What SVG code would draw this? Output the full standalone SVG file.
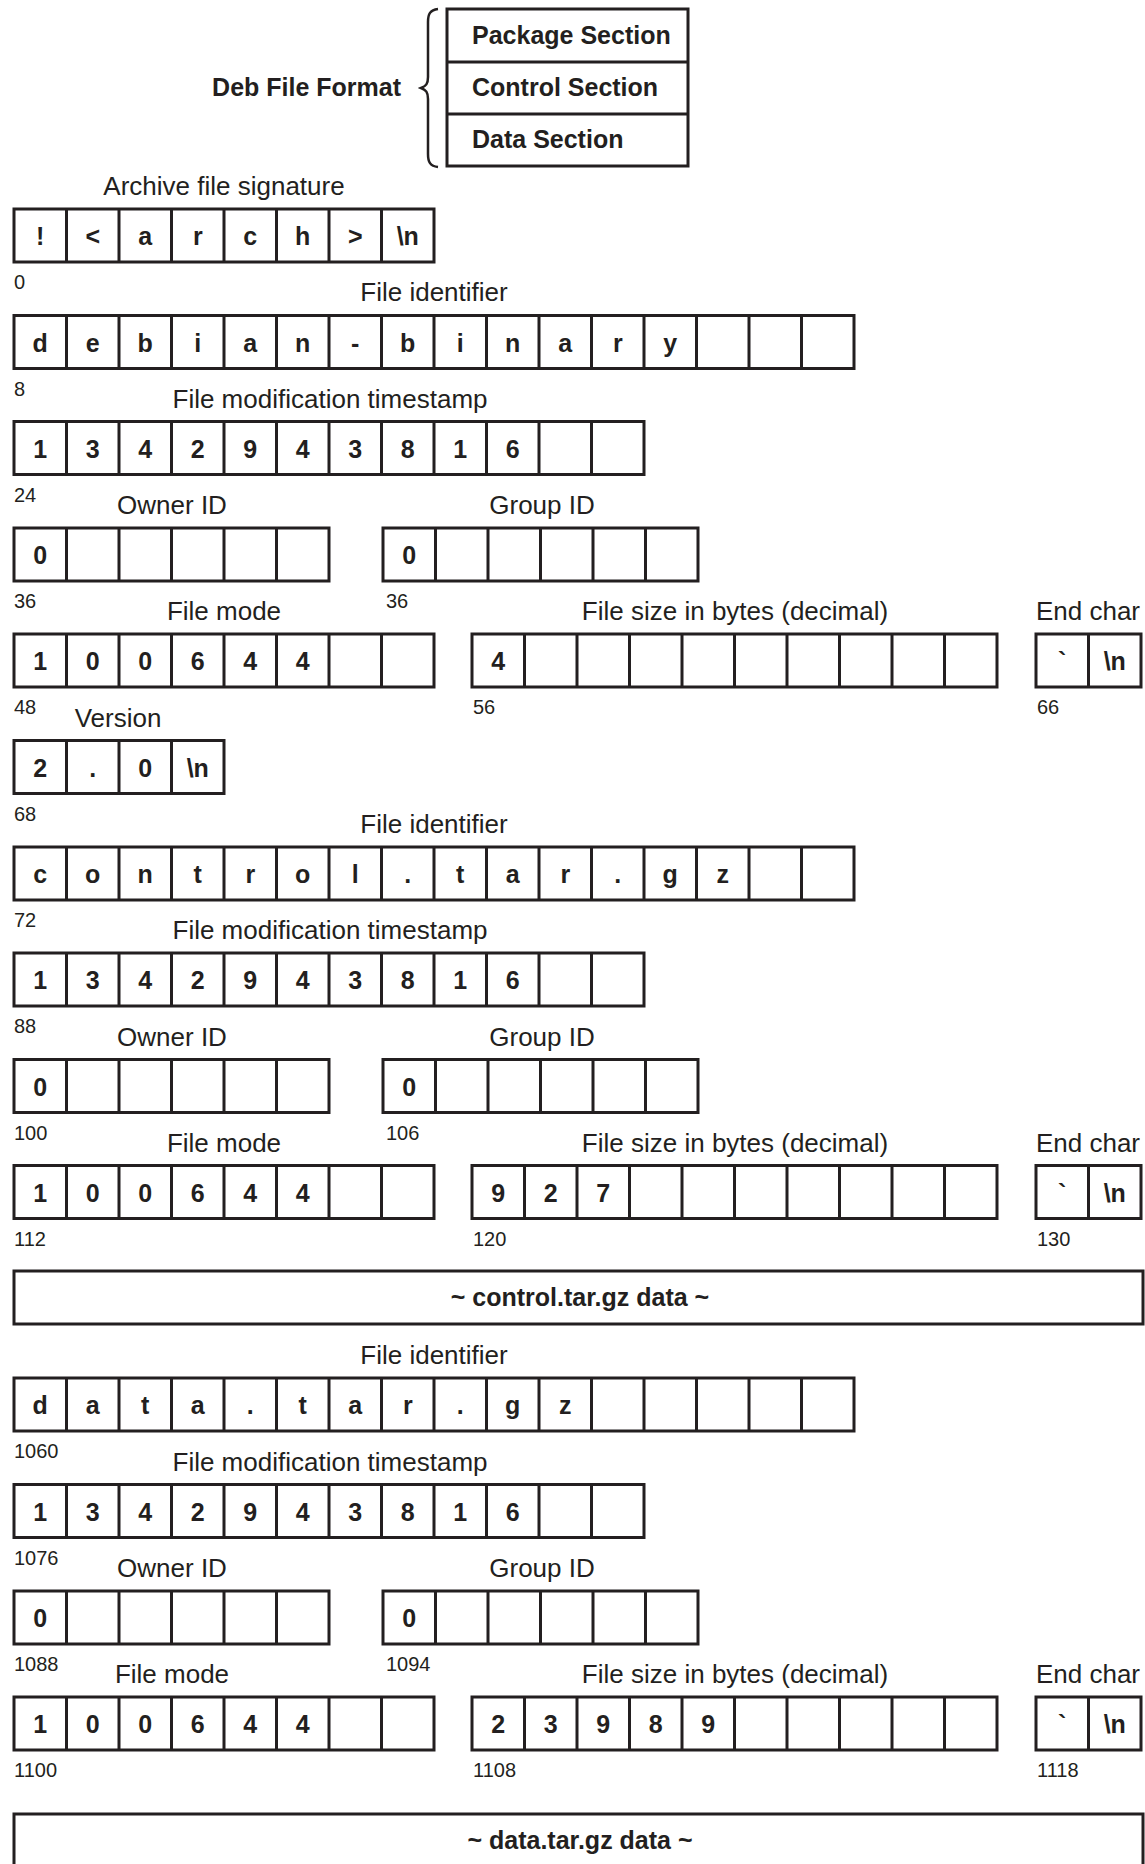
<svg xmlns="http://www.w3.org/2000/svg" xmlns:xlink="http://www.w3.org/1999/xlink" width="1145" height="1864" viewBox="0 0 1145 1864">
<style>
.g{fill:#fff;stroke:#231f20;stroke-width:3}
.box{fill:#fff;stroke:#231f20;stroke-width:3}
.lbl{font-family:"Liberation Sans",Arial,sans-serif;font-size:26px;fill:#231f20;text-anchor:middle}
.off{font-family:"Liberation Sans",Arial,sans-serif;font-size:20px;fill:#231f20}
.ch{font-family:"Liberation Sans",Arial,sans-serif;font-size:25px;font-weight:bold;fill:#231f20;text-anchor:middle}
.bt{font-family:"Liberation Sans",Arial,sans-serif;font-size:25px;font-weight:bold;fill:#231f20}
.brace{fill:none;stroke:#231f20;stroke-width:2.5}
</style>
<defs>
<path id="g16" class="g" d="M0,0H840V53H0Z M52.5,0v53 M105,0v53 M157.5,0v53 M210,0v53 M262.5,0v53 M315,0v53 M367.5,0v53 M420,0v53 M472.5,0v53 M525,0v53 M577.5,0v53 M630,0v53 M682.5,0v53 M735,0v53 M787.5,0v53"/>
<path id="g12" class="g" d="M0,0H630V53H0Z M52.5,0v53 M105,0v53 M157.5,0v53 M210,0v53 M262.5,0v53 M315,0v53 M367.5,0v53 M420,0v53 M472.5,0v53 M525,0v53 M577.5,0v53"/>
<path id="g10" class="g" d="M0,0H525V53H0Z M52.5,0v53 M105,0v53 M157.5,0v53 M210,0v53 M262.5,0v53 M315,0v53 M367.5,0v53 M420,0v53 M472.5,0v53"/>
<path id="g8" class="g" d="M0,0H420V53H0Z M52.5,0v53 M105,0v53 M157.5,0v53 M210,0v53 M262.5,0v53 M315,0v53 M367.5,0v53"/>
<path id="g6" class="g" d="M0,0H315V53H0Z M52.5,0v53 M105,0v53 M157.5,0v53 M210,0v53 M262.5,0v53"/>
<path id="g4" class="g" d="M0,0H210V53H0Z M52.5,0v53 M105,0v53 M157.5,0v53"/>
<path id="g2" class="g" d="M0,0H105V53H0Z M52.5,0v53"/>
</defs>
<rect width="1145" height="1864" fill="#fff"/>

<!-- Header -->
<g id="deb-format">
<text class="bt" x="401" y="96" text-anchor="end">Deb File Format</text>
<path class="brace" d="M438,9 C430,10 428,14 428,22 L428,77 C428,84 426,86 421,88 C426,90 428,92 428,99 L428,154 C428,162 430,166 438,167"/>
</g>
<g id="sections">
<rect class="box" x="447" y="9" width="241" height="157"/>
<path class="g" d="M447,62H688 M447,114H688"/>
<text class="bt" x="472" y="44">Package Section</text>
<text class="bt" x="472" y="96">Control Section</text>
<text class="bt" x="472" y="148">Data Section</text>
</g>

<!-- Package section -->
<g id="archive-signature">
<text class="lbl" x="224" y="195">Archive file signature</text>
<g transform="translate(14,209)"><use xlink:href="#g8"/>
<text class="ch" x="26.25" y="36">!</text><text class="ch" x="78.75" y="36">&lt;</text><text class="ch" x="131.25" y="36">a</text><text class="ch" x="183.75" y="36">r</text><text class="ch" x="236.25" y="36">c</text><text class="ch" x="288.75" y="36">h</text><text class="ch" x="341.25" y="36">&gt;</text><text class="ch" x="393.75" y="36">\n</text></g>
<text class="off" x="14" y="289">0</text>
</g>

<g id="pkg-file-identifier">
<text class="lbl" x="434" y="301">File identifier</text>
<g transform="translate(14,315.5)"><use xlink:href="#g16"/>
<text class="ch" x="26.25" y="36">d</text><text class="ch" x="78.75" y="36">e</text><text class="ch" x="131.25" y="36">b</text><text class="ch" x="183.75" y="36">i</text><text class="ch" x="236.25" y="36">a</text><text class="ch" x="288.75" y="36">n</text><text class="ch" x="341.25" y="36">-</text><text class="ch" x="393.75" y="36">b</text><text class="ch" x="446.25" y="36">i</text><text class="ch" x="498.75" y="36">n</text><text class="ch" x="551.25" y="36">a</text><text class="ch" x="603.75" y="36">r</text><text class="ch" x="656.25" y="36">y</text></g>
<text class="off" x="14" y="395.5">8</text>
</g>

<g id="pkg-timestamp">
<text class="lbl" x="330" y="407.5">File modification timestamp</text>
<g transform="translate(14,421.5)"><use xlink:href="#g12"/>
<text class="ch" x="26.25" y="36">1</text><text class="ch" x="78.75" y="36">3</text><text class="ch" x="131.25" y="36">4</text><text class="ch" x="183.75" y="36">2</text><text class="ch" x="236.25" y="36">9</text><text class="ch" x="288.75" y="36">4</text><text class="ch" x="341.25" y="36">3</text><text class="ch" x="393.75" y="36">8</text><text class="ch" x="446.25" y="36">1</text><text class="ch" x="498.75" y="36">6</text></g>
<text class="off" x="14" y="501.5">24</text>
</g>

<g id="pkg-owner-id">
<text class="lbl" x="172" y="514">Owner ID</text>
<g transform="translate(14,528)"><use xlink:href="#g6"/><text class="ch" x="26.25" y="36">0</text></g>
<text class="off" x="14" y="608">36</text>
</g>
<g id="pkg-group-id">
<text class="lbl" x="542" y="514">Group ID</text>
<g transform="translate(383,528)"><use xlink:href="#g6"/><text class="ch" x="26.25" y="36">0</text></g>
<text class="off" x="386" y="608">36</text>
</g>

<g id="pkg-file-mode">
<text class="lbl" x="224" y="620">File mode</text>
<g transform="translate(14,634)"><use xlink:href="#g8"/>
<text class="ch" x="26.25" y="36">1</text><text class="ch" x="78.75" y="36">0</text><text class="ch" x="131.25" y="36">0</text><text class="ch" x="183.75" y="36">6</text><text class="ch" x="236.25" y="36">4</text><text class="ch" x="288.75" y="36">4</text></g>
<text class="off" x="14" y="714">48</text>
</g>
<g id="pkg-file-size">
<text class="lbl" x="735" y="620">File size in bytes (decimal)</text>
<g transform="translate(472,634)"><use xlink:href="#g10"/><text class="ch" x="26.25" y="36">4</text></g>
<text class="off" x="473" y="714">56</text>
</g>
<g id="pkg-end-char">
<text class="lbl" x="1088" y="620">End char</text>
<g transform="translate(1036,634)"><use xlink:href="#g2"/><text class="ch" x="26.25" y="36">`</text><text class="ch" x="78.75" y="36">\n</text></g>
<text class="off" x="1037" y="714">66</text>
</g>

<g id="version">
<text class="lbl" x="118" y="726.5">Version</text>
<g transform="translate(14,740.5)"><use xlink:href="#g4"/>
<text class="ch" x="26.25" y="36">2</text><text class="ch" x="78.75" y="36">.</text><text class="ch" x="131.25" y="36">0</text><text class="ch" x="183.75" y="36">\n</text></g>
<text class="off" x="14" y="820.5">68</text>
</g>

<!-- Control section -->
<g id="ctl-file-identifier">
<text class="lbl" x="434" y="833">File identifier</text>
<g transform="translate(14,847)"><use xlink:href="#g16"/>
<text class="ch" x="26.25" y="36">c</text><text class="ch" x="78.75" y="36">o</text><text class="ch" x="131.25" y="36">n</text><text class="ch" x="183.75" y="36">t</text><text class="ch" x="236.25" y="36">r</text><text class="ch" x="288.75" y="36">o</text><text class="ch" x="341.25" y="36">l</text><text class="ch" x="393.75" y="36">.</text><text class="ch" x="446.25" y="36">t</text><text class="ch" x="498.75" y="36">a</text><text class="ch" x="551.25" y="36">r</text><text class="ch" x="603.75" y="36">.</text><text class="ch" x="656.25" y="36">g</text><text class="ch" x="708.75" y="36">z</text></g>
<text class="off" x="14" y="927">72</text>
</g>

<g id="ctl-timestamp">
<text class="lbl" x="330" y="939">File modification timestamp</text>
<g transform="translate(14,953)"><use xlink:href="#g12"/>
<text class="ch" x="26.25" y="36">1</text><text class="ch" x="78.75" y="36">3</text><text class="ch" x="131.25" y="36">4</text><text class="ch" x="183.75" y="36">2</text><text class="ch" x="236.25" y="36">9</text><text class="ch" x="288.75" y="36">4</text><text class="ch" x="341.25" y="36">3</text><text class="ch" x="393.75" y="36">8</text><text class="ch" x="446.25" y="36">1</text><text class="ch" x="498.75" y="36">6</text></g>
<text class="off" x="14" y="1033">88</text>
</g>

<g id="ctl-owner-id">
<text class="lbl" x="172" y="1045.5">Owner ID</text>
<g transform="translate(14,1059.5)"><use xlink:href="#g6"/><text class="ch" x="26.25" y="36">0</text></g>
<text class="off" x="14" y="1139.5">100</text>
</g>
<g id="ctl-group-id">
<text class="lbl" x="542" y="1045.5">Group ID</text>
<g transform="translate(383,1059.5)"><use xlink:href="#g6"/><text class="ch" x="26.25" y="36">0</text></g>
<text class="off" x="386" y="1139.5">106</text>
</g>

<g id="ctl-file-mode">
<text class="lbl" x="224" y="1151.5">File mode</text>
<g transform="translate(14,1165.5)"><use xlink:href="#g8"/>
<text class="ch" x="26.25" y="36">1</text><text class="ch" x="78.75" y="36">0</text><text class="ch" x="131.25" y="36">0</text><text class="ch" x="183.75" y="36">6</text><text class="ch" x="236.25" y="36">4</text><text class="ch" x="288.75" y="36">4</text></g>
<text class="off" x="14" y="1245.5">112</text>
</g>
<g id="ctl-file-size">
<text class="lbl" x="735" y="1151.5">File size in bytes (decimal)</text>
<g transform="translate(472,1165.5)"><use xlink:href="#g10"/><text class="ch" x="26.25" y="36">9</text><text class="ch" x="78.75" y="36">2</text><text class="ch" x="131.25" y="36">7</text></g>
<text class="off" x="473" y="1245.5">120</text>
</g>
<g id="ctl-end-char">
<text class="lbl" x="1088" y="1151.5">End char</text>
<g transform="translate(1036,1165.5)"><use xlink:href="#g2"/><text class="ch" x="26.25" y="36">`</text><text class="ch" x="78.75" y="36">\n</text></g>
<text class="off" x="1037" y="1245.5">130</text>
</g>

<g id="control-data">
<rect class="box" x="14" y="1271" width="1129" height="53"/>
<text class="ch" x="580" y="1306">~ control.tar.gz data ~</text>
</g>

<!-- Data section -->
<g id="data-file-identifier">
<text class="lbl" x="434" y="1364">File identifier</text>
<g transform="translate(14,1378)"><use xlink:href="#g16"/>
<text class="ch" x="26.25" y="36">d</text><text class="ch" x="78.75" y="36">a</text><text class="ch" x="131.25" y="36">t</text><text class="ch" x="183.75" y="36">a</text><text class="ch" x="236.25" y="36">.</text><text class="ch" x="288.75" y="36">t</text><text class="ch" x="341.25" y="36">a</text><text class="ch" x="393.75" y="36">r</text><text class="ch" x="446.25" y="36">.</text><text class="ch" x="498.75" y="36">g</text><text class="ch" x="551.25" y="36">z</text></g>
<text class="off" x="14" y="1458">1060</text>
</g>

<g id="data-timestamp">
<text class="lbl" x="330" y="1470.5">File modification timestamp</text>
<g transform="translate(14,1484.5)"><use xlink:href="#g12"/>
<text class="ch" x="26.25" y="36">1</text><text class="ch" x="78.75" y="36">3</text><text class="ch" x="131.25" y="36">4</text><text class="ch" x="183.75" y="36">2</text><text class="ch" x="236.25" y="36">9</text><text class="ch" x="288.75" y="36">4</text><text class="ch" x="341.25" y="36">3</text><text class="ch" x="393.75" y="36">8</text><text class="ch" x="446.25" y="36">1</text><text class="ch" x="498.75" y="36">6</text></g>
<text class="off" x="14" y="1564.5">1076</text>
</g>

<g id="data-owner-id">
<text class="lbl" x="172" y="1577">Owner ID</text>
<g transform="translate(14,1591)"><use xlink:href="#g6"/><text class="ch" x="26.25" y="36">0</text></g>
<text class="off" x="14" y="1671">1088</text>
</g>
<g id="data-group-id">
<text class="lbl" x="542" y="1577">Group ID</text>
<g transform="translate(383,1591)"><use xlink:href="#g6"/><text class="ch" x="26.25" y="36">0</text></g>
<text class="off" x="386" y="1671">1094</text>
</g>

<g id="data-file-mode">
<text class="lbl" x="172" y="1683">File mode</text>
<g transform="translate(14,1697)"><use xlink:href="#g8"/>
<text class="ch" x="26.25" y="36">1</text><text class="ch" x="78.75" y="36">0</text><text class="ch" x="131.25" y="36">0</text><text class="ch" x="183.75" y="36">6</text><text class="ch" x="236.25" y="36">4</text><text class="ch" x="288.75" y="36">4</text></g>
<text class="off" x="14" y="1777">1100</text>
</g>
<g id="data-file-size">
<text class="lbl" x="735" y="1683">File size in bytes (decimal)</text>
<g transform="translate(472,1697)"><use xlink:href="#g10"/><text class="ch" x="26.25" y="36">2</text><text class="ch" x="78.75" y="36">3</text><text class="ch" x="131.25" y="36">9</text><text class="ch" x="183.75" y="36">8</text><text class="ch" x="236.25" y="36">9</text></g>
<text class="off" x="473" y="1777">1108</text>
</g>
<g id="data-end-char">
<text class="lbl" x="1088" y="1683">End char</text>
<g transform="translate(1036,1697)"><use xlink:href="#g2"/><text class="ch" x="26.25" y="36">`</text><text class="ch" x="78.75" y="36">\n</text></g>
<text class="off" x="1037" y="1777">1118</text>
</g>

<g id="data-data">
<rect class="box" x="14" y="1814" width="1129" height="60"/>
<text class="ch" x="580" y="1849">~ data.tar.gz data ~</text>
</g>

<g id="connectors"/>
</svg>
